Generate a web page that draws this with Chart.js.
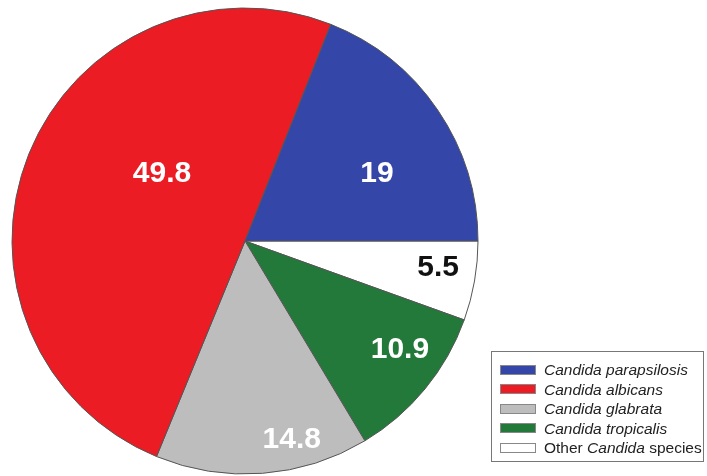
<!DOCTYPE html>
<html>
<head>
<meta charset="utf-8">
<script src="https://cdn.jsdelivr.net/npm/chart.js@4.4.0/dist/chart.umd.min.js"></script>
<style>
  html, body { margin: 0; padding: 0; background: #fff; overflow: hidden; }
  #wrap { position: relative; width: 707px; height: 476px; }
  #legend {
    position: absolute; left: 491px; top: 351px; width: 213px; height: 111px;
    border: 1px solid #777; box-sizing: border-box; padding-top: 8px;
    font-family: "Liberation Sans", Arial, sans-serif; font-size: 15.5px; color: #222;
  }
  .row { height: 19.5px; line-height: 19.5px; white-space: nowrap; }
  .sw { display: inline-block; width: 34px; height: 8px; border: 1px solid #888; margin: 0 8px 0 8px; vertical-align: middle; position: relative; top: -1px; }
</style>
</head>
<body>
<div id="wrap">
  <canvas id="myChart" width="707" height="476"></canvas>
  <div id="legend"></div>
</div>
<script>
// drawn clockwise starting at 3 o'clock
const species = ["Other Candida species", "Candida tropicalis", "Candida glabrata", "Candida albicans", "Candida parapsilosis"];
const percent = [5.5, 10.9, 14.8, 49.8, 19];
const colors = ["#ffffff", "#23793a", "#bdbdbd", "#ec1c24", "#3446a8"];
const labelColors = ["#111111", "#ffffff", "#ffffff", "#ffffff", "#ffffff"];
// label placement: fraction of radius, angle tweak in degrees
const labelRadius = [0.837, 0.813, 0.878, 0.458, 0.635];
const labelTurn = [-1.9, -4.3, -8.9, 17, 7.3];

// legend order (top to bottom)
const legendOrder = [4, 3, 2, 1, 0];

const legendDiv = document.getElementById("legend");
legendOrder.forEach((i) => {
  const name = species[i];
  let html;
  if (name.startsWith("Other")) {
    html = 'Other <i>Candida</i> species';
  } else {
    html = "<i>" + name + "</i>";
  }
  legendDiv.innerHTML += `<div class="row"><span class="sw" style="background:${colors[i]}"></span>${html}</div>`;
});

const sliceLabels = {
  id: "sliceLabels",
  afterDatasetsDraw(chart) {
    const ctx = chart.ctx;
    const meta = chart.getDatasetMeta(0);
    ctx.save();
    ctx.font = "bold 30px 'Liberation Sans', Arial, sans-serif";
    ctx.textAlign = "center";
    ctx.textBaseline = "middle";
    meta.data.forEach((arc, i) => {
      const p = arc.getProps(["x", "y", "startAngle", "endAngle", "outerRadius"], true);
      const a = (p.startAngle + p.endAngle) / 2 + labelTurn[i] * Math.PI / 180;
      const r = p.outerRadius * labelRadius[i];
      ctx.fillStyle = labelColors[i];
      ctx.fillText(String(percent[i]), p.x + Math.cos(a) * r, p.y + Math.sin(a) * r);
    });
    ctx.restore();
  },
};

const ctx = document.getElementById("myChart");

new Chart(ctx, {
  type: "pie",
  data: {
    labels: species,
    datasets: [
      {
        data: percent,
        backgroundColor: colors,
        borderColor: "#555555",
        borderWidth: 1,
      },
    ],
  },
  options: {
    responsive: false,
    animation: false,
    rotation: 90,
    layout: { padding: { left: 11.5, top: 7.5, right: 228.5, bottom: 1.5 } },
    plugins: {
      legend: { display: false },
      tooltip: { enabled: false },
    },
  },
  plugins: [sliceLabels],
});
</script>
</body>
</html>
